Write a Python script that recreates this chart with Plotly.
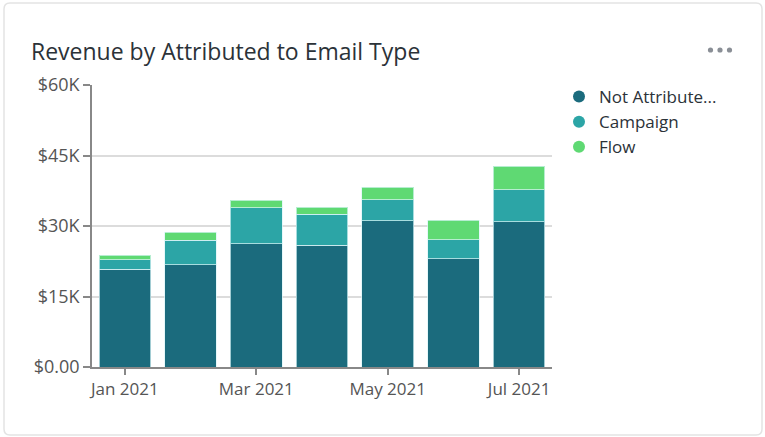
import plotly.graph_objects as go

months = ["Jan 2021", "Feb 2021", "Mar 2021", "Apr 2021", "May 2021", "Jun 2021", "Jul 2021"]
not_attributed = [20750, 21730, 26200, 25860, 31100, 23000, 30880]
campaign = [2120, 5190, 7670, 6660, 4470, 4050, 6820]
flow = [920, 1700, 1630, 1490, 2700, 4200, 5050]
tick_months = ["Jan 2021", "Mar 2021", "May 2021", "Jul 2021"]
y_ticks = [0, 15000, 30000, 45000, 60000]
y_labels = ["$0.00", "$15K", "$30K", "$45K", "$60K"]

series = [
    ("Not Attribute...", not_attributed, "#1b6b7d"),
    ("Campaign", campaign, "#2ca5a6"),
    ("Flow", flow, "#5fd973"),
]

FONT = "Open Sans"
fig = go.Figure()
for name, vals, color in series:
    fig.add_trace(go.Bar(
        x=months, y=vals, name=name, marker_color=color,
        marker_line=dict(color="rgba(220,245,248,0.7)", width=1),
        showlegend=False, hoverinfo="skip",
    ))
for name, vals, color in series:
    fig.add_trace(go.Scatter(
        x=[None], y=[None], mode="markers", name=name,
        marker=dict(symbol="circle", size=13, color=color),
    ))

W, H = 765, 437
L, R, T, B = 92, 213, 85, 70
pw, ph = W - L - R, H - T - B

def px(x):
    return (x - L) / pw

def py(y):
    return (H - B - y) / ph

# card border with rounded corners
x0, x1, y0, y1 = px(4), px(762), py(435), py(3)
rx, ry = 6 / pw, 6 / ph
path = (f"M {x0+rx},{y1} L {x1-rx},{y1} Q {x1},{y1} {x1},{y1-ry} "
        f"L {x1},{y0+ry} Q {x1},{y0} {x1-rx},{y0} L {x0+rx},{y0} "
        f"Q {x0},{y0} {x0},{y0+ry} L {x0},{y1-ry} Q {x0},{y1} {x0+rx},{y1} Z")

shapes = [dict(type="path", xref="paper", yref="paper", path=path,
               line=dict(color="#e3e3e3", width=1.5), fillcolor="rgba(0,0,0,0)", layer="below")]
for cx in (710.5, 720, 729.5):
    r = 2.6
    shapes.append(dict(type="circle", xref="paper", yref="paper",
                       x0=px(cx - r), x1=px(cx + r), y0=py(50 + r), y1=py(50 - r),
                       fillcolor="#8a8f96", line=dict(width=0)))

fig.update_layout(
    width=W, height=H,
    margin=dict(l=L, r=R, t=T, b=B),
    paper_bgcolor="white", plot_bgcolor="white",
    barmode="stack", bargap=0.215,
    font=dict(family=FONT, color="#555555", size=16),
    title=dict(text="Revenue by Attributed to Email Type", xref="container", yref="container",
               x=31 / W, xanchor="left", y=1 - 52 / H, yanchor="middle",
               font=dict(family=FONT, size=23, color="#2b3238")),
    legend=dict(x=px(559), y=py(79), xanchor="left", yanchor="top", traceorder="normal",
                font=dict(family=FONT, size=17, color="#2b3238"),
                itemsizing="constant", tracegroupgap=0, bgcolor="rgba(0,0,0,0)"),
    shapes=shapes,
)
fig.update_xaxes(
    type="category", categoryorder="array", categoryarray=months,
    range=[-0.5, 6.5], tickvals=tick_months, ticktext=tick_months,
    ticks="outside", ticklen=6, tickcolor="#888888", tickwidth=1.5,
    showline=True, linecolor="#888888", linewidth=1.5, showgrid=False,
    tickfont=dict(family=FONT, size=17, color="#555555"),
)
fig.update_yaxes(
    range=[0, 60000], tickvals=y_ticks, ticktext=y_labels,
    ticks="outside", ticklen=7, tickcolor="#888888", tickwidth=1.5,
    showline=True, linecolor="#888888", linewidth=1.5,
    showgrid=True, gridcolor="#dcdcdc", gridwidth=1.5, zeroline=False,
    tickfont=dict(family=FONT, size=18, color="#555555"),
)
fig.write_html("out.html", config={"displayModeBar": False},
               post_script="document.body.style.margin='0';")
